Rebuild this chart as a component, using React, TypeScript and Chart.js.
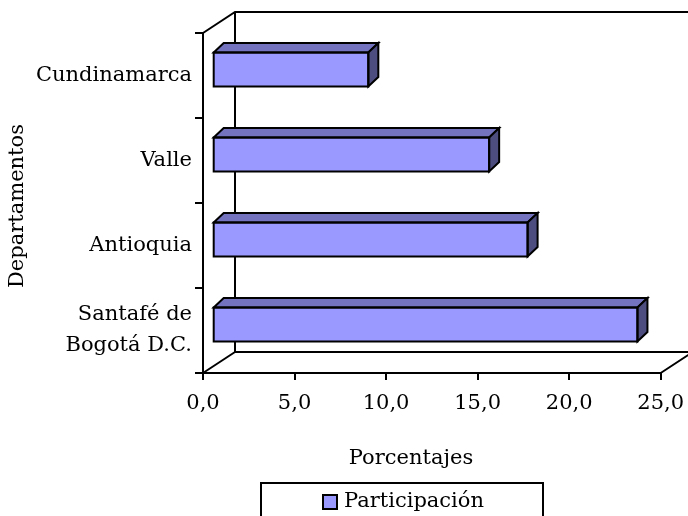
import React, { useEffect, useRef } from 'react';
import { Chart, registerables } from 'chart.js';

Chart.register(...registerables);

// ---- data ----
const categories: (string | string[])[] = ['Cundinamarca', 'Valle', 'Antioquia', ['Santafé de', 'Bogotá D.C.']];
const participacion = [8.5, 15.1, 17.2, 23.2];
const seriesName = 'Participación';
const xMin = 0;
const xMax = 25;
const xStep = 5;
const xTitle = 'Porcentajes';
const yTitle = 'Departamentos';

// ---- styles ----
const FONT = '"DejaVu Serif", serif';
const FONT_SIZE = 21;
const FRONT = '#9999FF';
const TOP = '#7373BF';
const SIDE = '#4D4D80';
const WALL = { dx: 32, dy: -21 };
const BAR_SHIFT = { dx: 9.7, dy: -6 };
const BAR_DEPTH = { dx: 10, dy: -9.5 };

const threeD = {
  id: 'threeD',
  beforeDatasetsDraw(chart: any) {
    const { ctx, chartArea: a, scales } = chart;
    const xs = scales.x;
    const x0 = xs.getPixelForValue(xMin);
    const x1 = xs.getPixelForValue(xMax);
    ctx.save();
    ctx.strokeStyle = '#000';
    ctx.lineWidth = 2;
    ctx.lineJoin = 'miter';
    ctx.beginPath();
    ctx.moveTo(x0, a.top);
    ctx.lineTo(x0 + WALL.dx, a.top + WALL.dy);
    ctx.lineTo(x1 + WALL.dx + 10, a.top + WALL.dy);
    ctx.moveTo(x0 + WALL.dx, a.top + WALL.dy);
    ctx.lineTo(x0 + WALL.dx, a.bottom + WALL.dy);
    ctx.lineTo(x1 + WALL.dx, a.bottom + WALL.dy);
    ctx.lineTo(x1, a.bottom);
    ctx.moveTo(x0, a.bottom);
    ctx.lineTo(x0 + WALL.dx, a.bottom + WALL.dy);
    ctx.stroke();
    ctx.restore();
    ctx.save();
    ctx.translate(BAR_SHIFT.dx, BAR_SHIFT.dy);
  },
  afterDatasetsDraw(chart: any) {
    const ctx = chart.ctx;
    const meta = chart.getDatasetMeta(0);
    ctx.strokeStyle = '#000';
    ctx.lineWidth = 2;
    ctx.lineJoin = 'miter';
    meta.data.forEach((el: any) => {
      const { x, y, base, height } = el.getProps(['x', 'y', 'base', 'height'], true);
      const t = y - height / 2;
      const b = y + height / 2;
      const l = base;
      const r = x;
      ctx.beginPath();
      ctx.moveTo(l, t);
      ctx.lineTo(l + BAR_DEPTH.dx, t + BAR_DEPTH.dy);
      ctx.lineTo(r + BAR_DEPTH.dx, t + BAR_DEPTH.dy);
      ctx.lineTo(r, t);
      ctx.closePath();
      ctx.fillStyle = TOP;
      ctx.fill();
      ctx.stroke();
      ctx.beginPath();
      ctx.moveTo(r, t);
      ctx.lineTo(r + BAR_DEPTH.dx, t + BAR_DEPTH.dy);
      ctx.lineTo(r + BAR_DEPTH.dx, b + BAR_DEPTH.dy);
      ctx.lineTo(r, b);
      ctx.closePath();
      ctx.fillStyle = SIDE;
      ctx.fill();
      ctx.stroke();
      ctx.beginPath();
      ctx.rect(l, t, r - l, b - t);
      ctx.stroke();
    });
    ctx.restore();
  },
  afterDraw(chart: any) {
    const { ctx } = chart;
    ctx.save();
    ctx.fillStyle = '#000';
    ctx.font = `${FONT_SIZE}px ${FONT}`;
    ctx.textBaseline = 'middle';
    ctx.textAlign = 'center';
    // x title
    ctx.fillText(xTitle, 411, 459);
    // y title
    ctx.save();
    ctx.translate(18, 206);
    ctx.rotate(-Math.PI / 2);
    ctx.fillText(yTitle, 0, 0);
    ctx.restore();
    // legend
    ctx.strokeStyle = '#000';
    ctx.lineWidth = 2;
    ctx.strokeRect(261, 483, 282, 50);
    ctx.fillStyle = FRONT;
    ctx.fillRect(323, 495, 14, 14);
    ctx.strokeRect(323, 495, 14, 14);
    ctx.fillStyle = '#000';
    ctx.textAlign = 'left';
    ctx.fillText(chart.data.datasets[0].label, 344, 502);
    ctx.restore();
  },
};

export default function App() {
  const ref = useRef<HTMLCanvasElement | null>(null);
  useEffect(() => {
    if (!ref.current) return;
    const chart = new Chart(ref.current, {
      type: 'bar',
      data: {
        labels: categories as any,
        datasets: [
          {
            label: seriesName,
            data: participacion,
            backgroundColor: FRONT,
            borderColor: '#000',
            borderWidth: 0,
            barPercentage: 0.4,
            categoryPercentage: 1,
          },
        ],
      },
      options: {
        indexAxis: 'y',
        animation: false,
        responsive: false,
        maintainAspectRatio: false,
        layout: { padding: { top: 33, right: 27.3, left: 0, bottom: 0 } },
        plugins: { legend: { display: false }, tooltip: { enabled: false } },
        scales: {
          x: {
            min: xMin,
            max: xMax,
            afterFit: (s: any) => {
              s.height = 143;
              s.paddingLeft = 0;
              s.paddingRight = 0;
            },
            ticks: {
              stepSize: xStep,
              color: '#000',
              padding: 11,
              maxRotation: 0,
              font: { family: FONT, size: FONT_SIZE },
              callback: (v: any) => Number(v).toFixed(1).replace('.', ','),
            },
            grid: { drawOnChartArea: false, drawTicks: true, tickLength: 7, color: '#000', lineWidth: 2 },
            border: { display: true, color: '#000', width: 2 },
          },
          y: {
            afterFit: (s: any) => {
              s.width = 203;
              s.paddingTop = 0;
              s.paddingBottom = 0;
            },
            ticks: {
              color: '#000',
              padding: 3,
              font: { family: FONT, size: FONT_SIZE, lineHeight: 1.48 },
            },
            grid: { drawOnChartArea: false, drawTicks: true, tickLength: 8, color: '#000', lineWidth: 2, offset: true },
            border: { display: true, color: '#000', width: 2 },
          },
        },
      },
      plugins: [threeD],
    });
    return () => chart.destroy();
  }, []);
  return (
    <div style={{ position: 'fixed', left: 0, top: 0, width: 688, height: 516, background: '#fff' }}>
      <canvas ref={ref} width={688} height={516} />
    </div>
  );
}
